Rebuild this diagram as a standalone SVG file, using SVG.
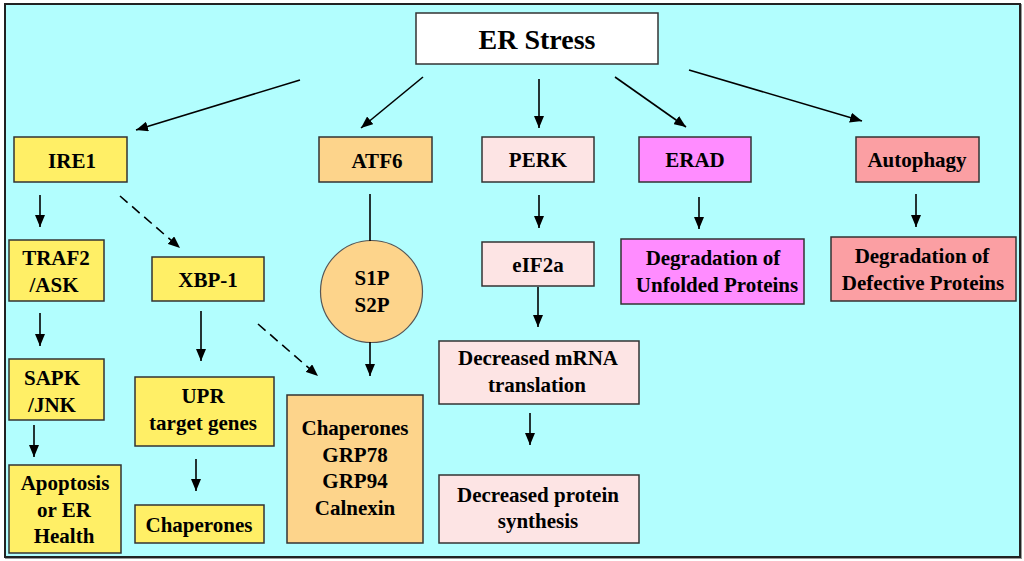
<svg xmlns="http://www.w3.org/2000/svg" width="1024" height="561" viewBox="0 0 1024 561">
<defs>
<marker id="ah" viewBox="0 0 12 10" refX="12" refY="5" markerWidth="12" markerHeight="10" markerUnits="userSpaceOnUse" orient="auto">
<path d="M0,0 L12,5 L0,10 Z" fill="#000"/>
</marker>
</defs>
<style>
text{font-family:"Liberation Serif","Times New Roman",serif;font-weight:bold;font-size:21px;fill:#000;text-anchor:middle}
.b{stroke:#333;stroke-width:1.5}
.y{fill:#FFEF66}
.o{fill:#FDD48B}
.p{fill:#FDE4E4}
.m{fill:#FF8CFF}
.r{fill:#FB9FA3}
.c line{stroke:#000;stroke-width:1.6;marker-end:url(#ah)}
.c .d{stroke-dasharray:10 6}
.c .n{marker-end:none}
</style>
<rect x="0" y="0" width="1024" height="561" fill="#fff"/>
<rect x="6" y="5" width="1015" height="553" fill="none" stroke="#999" stroke-width="2"/>
<rect x="5" y="4" width="1015" height="553" fill="#B2FEFE" stroke="#222" stroke-width="2"/>

<g id="er-stress"><rect class="b" x="416" y="13" width="242" height="51" fill="#fff"/><text x="537" y="49" style="font-size:28px">ER Stress</text></g>
<g id="ire1"><rect class="b y" x="14" y="137" width="113" height="45"/><text x="72" y="168">IRE1</text></g>
<g id="atf6"><rect class="b o" x="319" y="137" width="113" height="45"/><text x="377" y="168">ATF6</text></g>
<g id="perk"><rect class="b p" x="482" y="137" width="112" height="45"/><text x="538" y="167">PERK</text></g>
<g id="erad"><rect class="b m" x="639" y="137" width="112" height="45"/><text x="695" y="167">ERAD</text></g>
<g id="autophagy"><rect class="b r" x="856" y="137" width="123" height="45"/><text x="917" y="167">Autophagy</text></g>

<g id="traf2"><rect class="b y" x="9" y="240" width="95" height="61"/><text x="56" y="265">TRAF2</text><text x="54" y="292">/ASK</text></g>
<g id="xbp1"><rect class="b y" x="152" y="257" width="112" height="44"/><text x="208" y="287">XBP-1</text></g>
<g id="s1p-s2p"><circle cx="371.5" cy="291.5" r="51" fill="#FDD48B" stroke="#555" stroke-width="1.2"/><text x="372" y="285">S1P</text><text x="372" y="312">S2P</text></g>
<g id="eif2a"><rect class="b p" x="482" y="242" width="112" height="44"/><text x="538" y="272">eIF2a</text></g>
<g id="deg-unfolded"><rect class="b m" x="621" y="239" width="183" height="65"/><text x="713" y="265">Degradation of</text><text x="717" y="292">Unfolded Proteins</text></g>
<g id="deg-defective"><rect class="b r" x="831" y="237" width="185" height="64"/><text x="922" y="263">Degradation of</text><text x="923" y="290">Defective Proteins</text></g>

<g id="sapk"><rect class="b y" x="9" y="359" width="95" height="61"/><text x="52" y="385">SAPK</text><text x="52" y="412">/JNK</text></g>
<g id="apoptosis"><rect class="b y" x="9" y="465" width="112" height="88"/><text x="65" y="490">Apoptosis</text><text x="64" y="517">or ER</text><text x="64" y="543">Health</text></g>
<g id="upr"><rect class="b y" x="135" y="377" width="139" height="69"/><text x="203" y="403">UPR</text><text x="203" y="430">target genes</text></g>
<g id="chaperones-y"><rect class="b y" x="135" y="505" width="129" height="38"/><text x="199" y="532">Chaperones</text></g>
<g id="chaperones-o"><rect class="b o" x="287" y="395" width="136" height="148"/><text x="355" y="435">Chaperones</text><text x="355" y="462">GRP78</text><text x="355" y="488">GRP94</text><text x="355" y="515">Calnexin</text></g>
<g id="dec-mrna"><rect class="b p" x="439" y="341" width="200" height="63"/><text x="538" y="365">Decreased mRNA</text><text x="537" y="392">translation</text></g>
<g id="dec-protein"><rect class="b p" x="439" y="475" width="200" height="68"/><text x="538" y="502">Decreased protein</text><text x="538" y="528">synthesis</text></g>

<g id="connectors" class="c">
<line x1="300" y1="80" x2="136" y2="130"/>
<line x1="423" y1="77" x2="361" y2="128"/>
<line x1="539" y1="79" x2="539" y2="128"/>
<line x1="615" y1="77" x2="686" y2="127"/>
<line x1="689" y1="70" x2="862" y2="121"/>
<line x1="40" y1="195" x2="40" y2="227"/>
<line class="d" x1="120" y1="196" x2="180" y2="248"/>
<line class="n" x1="370" y1="194" x2="370" y2="241"/>
<line x1="370" y1="342" x2="370" y2="376"/>
<line x1="40" y1="313" x2="40" y2="346"/>
<line x1="34" y1="425" x2="34" y2="457"/>
<line x1="201" y1="311" x2="201" y2="361"/>
<line x1="196" y1="459" x2="196" y2="491"/>
<line class="d" x1="258" y1="324" x2="318" y2="376"/>
<line x1="539" y1="195" x2="539" y2="228"/>
<line x1="538" y1="287" x2="538" y2="327"/>
<line x1="530" y1="413" x2="530" y2="445"/>
<line x1="699" y1="197" x2="699" y2="229"/>
<line x1="916" y1="194" x2="916" y2="227"/>
</g>
</svg>
